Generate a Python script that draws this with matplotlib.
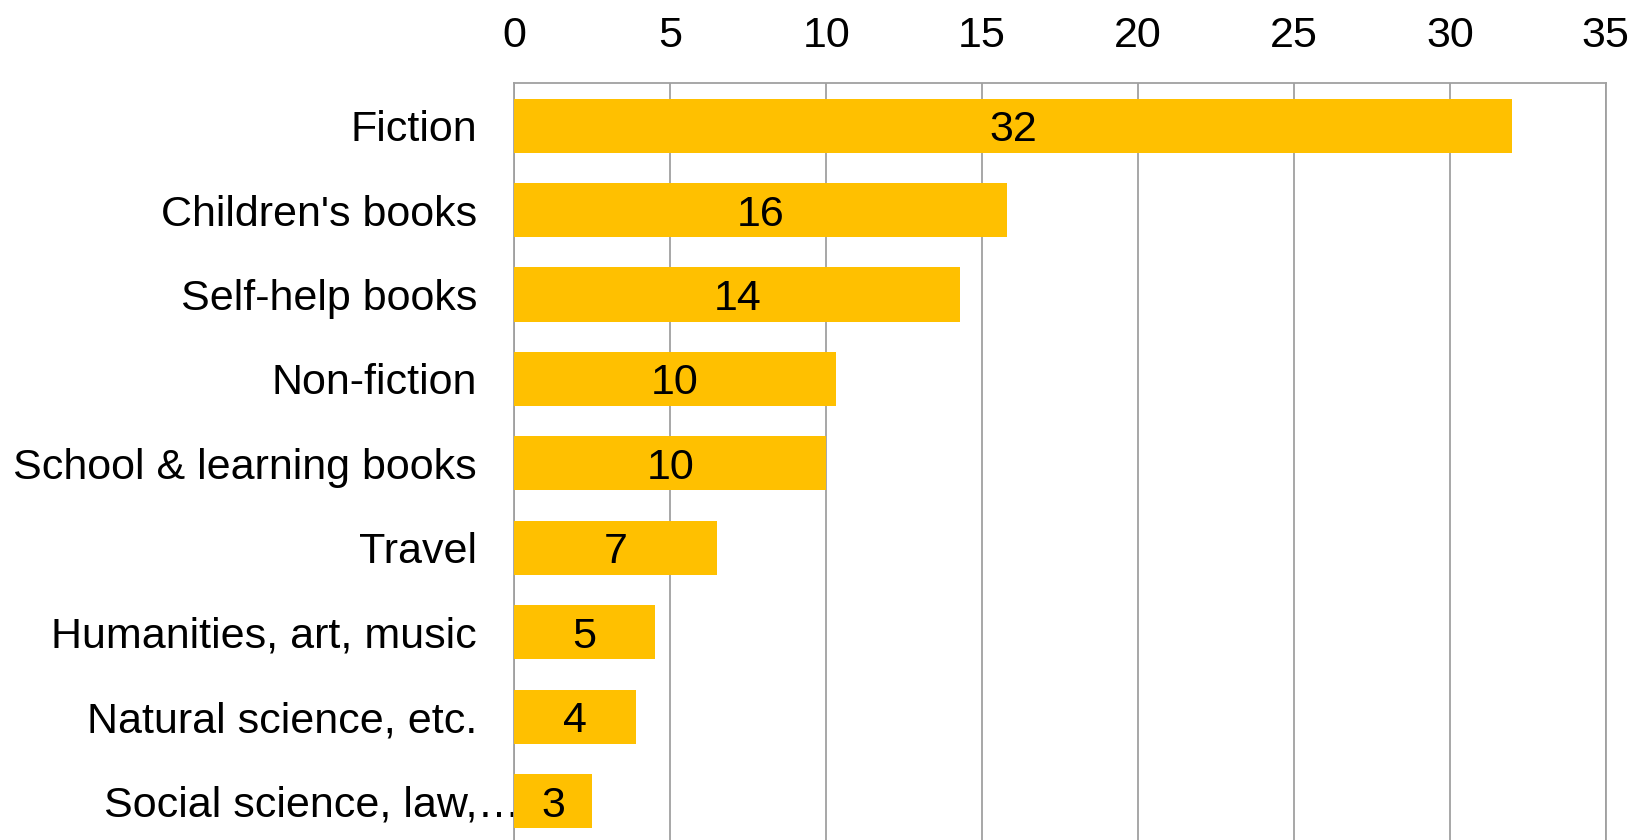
import matplotlib
matplotlib.use('Agg')
import matplotlib.pyplot as plt
import matplotlib.transforms as mtransforms
import numpy as np

# categories top to bottom
categories = ['Fiction', "Children's books", 'Self-help books', 'Non-fiction',
              'School & learning books', 'Travel', 'Humanities, art, music',
              'Natural science, etc.', 'Social science, law,\u2026']
values = [32.0, 15.8, 14.3, 10.3, 10.0, 6.5, 4.5, 3.9, 2.5]
x_ticks = [0, 5, 10, 15, 20, 25, 30, 35]

plt.rcParams['font.family'] = ['Liberation Sans', 'DejaVu Sans']

fig = plt.figure(figsize=(16.34, 8.4), dpi=100)
ax = fig.add_axes([0.3148, -0.004, 0.9827 - 0.3148, 0.9007 + 0.004])

y = np.arange(len(categories))
bars = ax.barh(y, values, height=0.64, color='#FFC000', zorder=3)

# labels in the middle of each bar, rounded half up like the source
for b, v in zip(bars, values):
    ax.text(b.get_width() / 2, b.get_y() + b.get_height() / 2, str(int(v + 0.5)),
            ha='center', va='center_baseline', fontsize=31, color='black', zorder=4)

ax.set_xlim(0, 35)
ax.set_ylim(len(categories) - 0.5, -0.5)
ax.set_xticks(x_ticks)
ax.set_yticks(y)
ax.set_yticklabels(categories)
ax.xaxis.tick_top()
ax.tick_params(axis='x', length=0, pad=20, labelsize=31)
ax.tick_params(axis='y', length=0, pad=27, labelsize=31)
ax.grid(axis='x', color='#a0a0a0', linewidth=1.3, zorder=1)

for side in ['top', 'left', 'right']:
    ax.spines[side].set_color('#a0a0a0')
    ax.spines[side].set_linewidth(1.3)
ax.spines['bottom'].set_visible(False)

# the truncated last label sits closer to the axis
last = ax.get_yticklabels()[-1]
last.set_transform(last.get_transform() +
                   mtransforms.ScaledTranslation(0.44, 0, fig.dpi_scale_trans))

fig.savefig('out.png', dpi=100)
